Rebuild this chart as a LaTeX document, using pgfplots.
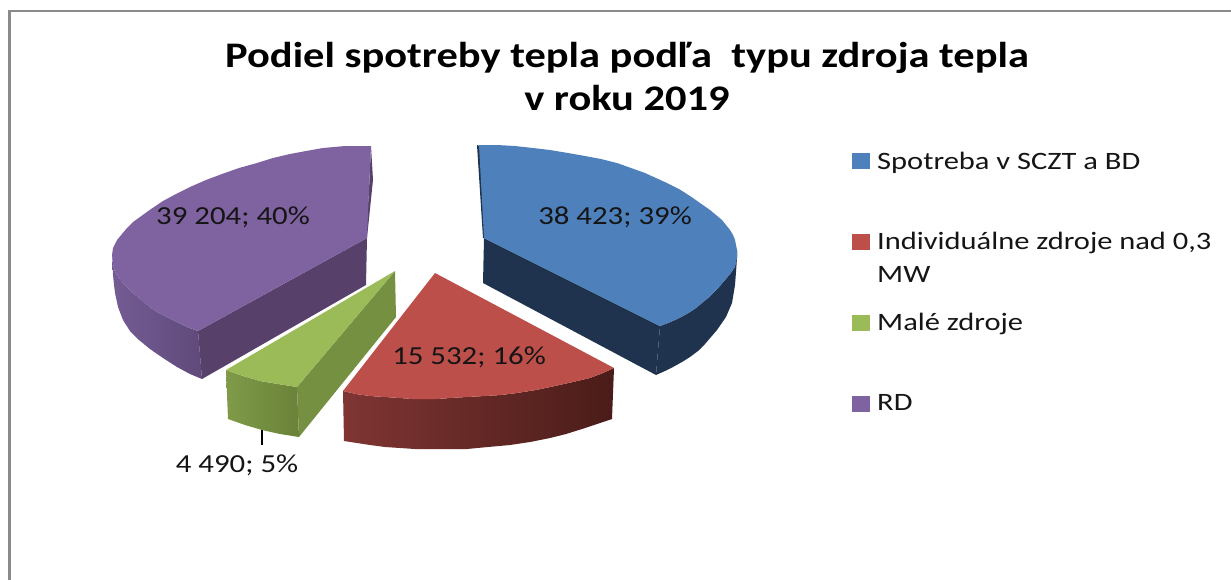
\documentclass[border=0pt]{standalone}
\usepackage{pgfplots}
\pgfplotsset{compat=1.18}
\usepackage{fontspec}
\setmainfont{Carlito}
\newfontfamily\titlefont[FakeStretch=1.18]{Carlito}
\newfontfamily\lblfont[FakeStretch=1.185]{Carlito}
\newfontfamily\legfont[FakeStretch=1.22]{Carlito}
\definecolor{cblue}{HTML}{4E80BC}
\definecolor{cbluedk}{HTML}{1F334F}
\definecolor{cred}{HTML}{BD4F4B}
\definecolor{credL}{HTML}{7F3533}
\definecolor{credR}{HTML}{4A1C19}
\definecolor{cgreen}{HTML}{9BBB59}
\definecolor{cgreendk}{HTML}{759040}
\definecolor{cgreenL}{HTML}{7F9B49}
\definecolor{cgreenR}{HTML}{6A8239}
\definecolor{cpurple}{HTML}{7F62A0}
\definecolor{cpurpledk}{HTML}{57416B}
\definecolor{cpurpleL}{HTML}{745C94}
\definecolor{cpurpleR}{HTML}{5F4A7A}
\definecolor{cframe}{HTML}{8A8A8A}
\definecolor{ctext}{HTML}{151515}
\tikzset{
  ttl/.style={font=\titlefont\bfseries\fontsize{36}{42}\selectfont, text=black, anchor=base, inner sep=0pt},
  lbl/.style={font=\lblfont\fontsize{26}{30}\selectfont, text=ctext, anchor=base, inner sep=0pt},
  leg/.style={font=\legfont\fontsize{25}{30}\selectfont, text=ctext, anchor=base west, inner sep=0pt},
}
\begin{document}
\begin{tikzpicture}
\useasboundingbox (0,0) rectangle (1231pt,579pt);
\begin{axis}[
  at={(0,0)}, anchor=south west,
  scale only axis, width=1231pt, height=579pt,
  xmin=0, xmax=1231, ymin=0, ymax=579, y dir=reverse,
  hide axis, no markers,
  every axis plot/.append style={forget plot},
]
% frame
\addplot[cframe, line width=2.6pt] coordinates {(9.5,590) (9.5,11) (1240,11)};

% --- RD (purple)
\addplot[draw=none, left color=cpurpleL, right color=cpurpleR] coordinates {
 (112,255) (112.5,265) (113,275) (114,285) (115,293) (118,307) (123,320) (130,331) (139,340) (150,349) (163,358) (177,367) (190,374) (202,379)
 (198,331) (187,327) (177,322) (167,317) (157,312) (151,308) (145,303) (139,298) (133,293) (128,288) (123,283) (119,278) (115,272) (114,268) (113,264)} --cycle;
\addplot[draw=none, fill=cpurpledk] coordinates {(367,238) (198,331) (202,379) (366,285)} --cycle;
\addplot[draw=none, fill=cpurpledk] coordinates {(371,146) (373,180) (367,238) (366,238) (369,190)} --cycle;
\addplot[draw=none, fill=cpurple] coordinates {
 (371,146) (345,146) (323,148) (306,151) (290,154) (273,158) (257,163) (239,168) (222,174) (206,180) (190,187) (176,194) (163,201) (151,209) (140,217) (133,222) (127,228) (122,234) (117,240) (115,244) (113,248) (112,255)
 (113,264) (114,268) (115,272) (119,278) (123,283) (128,288) (133,293) (139,298) (145,303) (151,308) (157,312) (167,317) (177,322) (187,327) (198,331) (367,238) (369,190)} --cycle;

% --- Spotreba v SCZT a BD (blue)
\addplot[draw=none, fill=cbluedk] coordinates {(484,238) (660,326) (656,375) (483,283)} --cycle;
\addplot[draw=none, fill=cbluedk] coordinates {
 (737,250) (737,258) (736,272) (735,285) (732,303) (726,317) (717,330) (711,337) (705,344) (698,351) (690,357) (682,362) (673,367) (665,371) (656,375)
 (660,326) (668,323) (675,320) (683,316) (690,312) (696,308) (702,303) (708,298) (713,293) (719,287) (725,280) (730,274) (735,267)} --cycle;
\addplot[draw=none, fill=cbluedk] coordinates {(477,145) (480,146) (485,238) (483,238)} --cycle;
\addplot[draw=none, fill=cblue] coordinates {
 (479,145) (497,145) (515,146) (533,148) (550,150) (568,153) (585,156) (601,159) (617,163) (631,168) (645,173) (656,178) (667,183) (679,189) (690,196) (700,203) (710,210) (716,215) (722,220) (726,225) (730,230) (733,235) (735,240) (736,245) (737,250)
 (737,258) (735,267) (730,274) (725,280) (719,287) (713,293) (708,298) (702,303) (696,308) (690,312) (683,316) (675,320) (668,323) (660,326) (484,238)} --cycle;

% --- Individualne zdroje (red)
\addplot[draw=none, left color=credL, right color=credR] coordinates {
 (614,368) (612,419) (597,424) (582,429) (566,434) (550,438) (530,442) (510,445) (488,447) (467,449) (448,449) (430,449) (415,449) (400,448) (385,447) (370,445) (357,443) (344,441) (343,391)
 (356,394) (370,396) (385,397) (400,398) (412,399) (425,399) (437,399) (450,398) (467,397) (485,396) (501,395) (517,393) (536,390) (555,386) (573,382) (590,378) (603,373)} --cycle;
\addplot[draw=none, fill=cred] coordinates {
 (435,273) (614,368) (603,373) (590,378) (573,382) (555,386) (536,390) (517,393) (501,395) (485,396) (467,397) (450,398) (437,399) (425,399) (412,399) (400,398) (385,397) (370,396) (356,394) (343,391)} --cycle;

% --- Male zdroje (green)
\addplot[black, line width=2.6pt] coordinates {(262,428) (262,445)};
\addplot[draw=none, left color=cgreenL, right color=cgreenR] coordinates {
 (226,370) (228,419) (245,425) (262,430) (280,434) (299,437) (297,387) (278,384) (260,381) (243,376)} --cycle;
\addplot[draw=none, fill=cgreendk] coordinates {(395,271) (297,387) (299,437) (396,317)} --cycle;
\addplot[draw=none, fill=cgreen] coordinates {(395,271) (226,370) (243,376) (260,381) (278,384) (297,387)} --cycle;

% legend swatches
\addplot[draw=none, fill=cblue] coordinates {(852,153) (870,153) (870,169) (852,169)} --cycle;
\addplot[draw=none, fill=cred] coordinates {(852,234) (870,234) (870,250) (852,250)} --cycle;
\addplot[draw=none, fill=cgreen] coordinates {(852,315) (870,315) (870,331) (852,331)} --cycle;
\addplot[draw=none, fill=cpurple] coordinates {(852,396) (870,396) (870,412) (852,412)} --cycle;

% title
\node[ttl] at (axis cs:627,67) {Podiel spotreby tepla podľa\ \ typu zdroja tepla};
\node[ttl] at (axis cs:627,110) {v roku 2019};

% data labels
\node[lbl] at (axis cs:233,224) {39 204; 40\%};
\node[lbl] at (axis cs:615,224) {38 423; 39\%};
\node[lbl] at (axis cs:469,364) {15 532; 16\%};
\node[lbl] at (axis cs:237,472) {4 490; 5\%};

% legend text
\node[leg] at (axis cs:877,169) {Spotreba v SCZT a BD};
\node[leg] at (axis cs:877,249) {Individuálne zdroje nad 0,3};
\node[leg] at (axis cs:877,282) {MW};
\node[leg] at (axis cs:877,330) {Malé zdroje};
\node[leg] at (axis cs:877,410) {RD};
\end{axis}
\end{tikzpicture}
\end{document}
